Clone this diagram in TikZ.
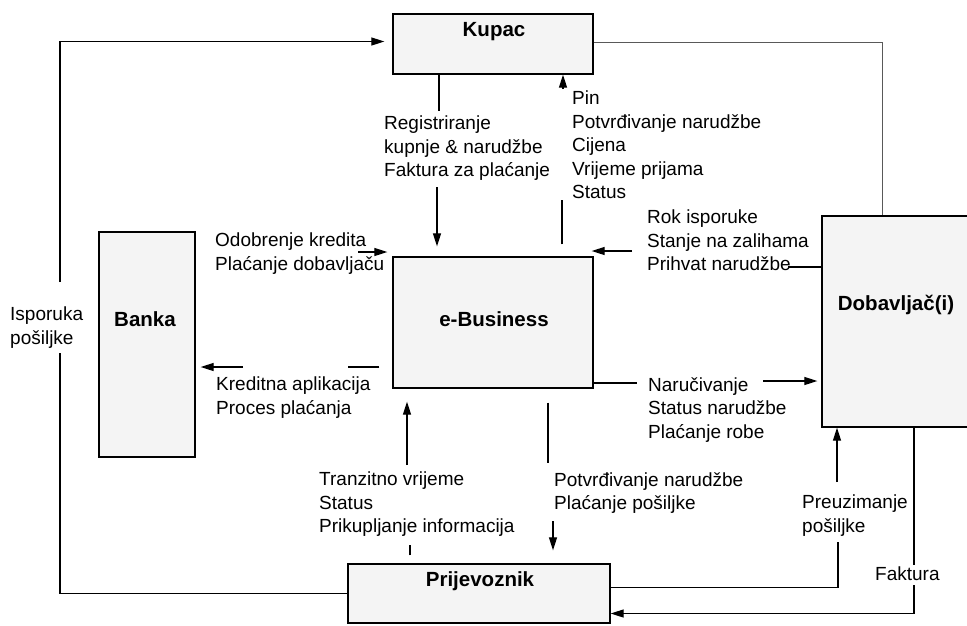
\documentclass[tikz,border=0pt]{standalone}
\usepackage{fontspec}
\setmainfont{Liberation Sans}
\usetikzlibrary{arrows.meta}

\tikzset{
  box/.style={draw, line width=1.3pt, fill=gray!9, inner sep=0pt},
  title/.style={anchor=base, inner sep=0pt, font=\fontsize{20.5}{24}\selectfont\bfseries},
  txt/.style={anchor=north west, align=left, inner sep=0pt, font=\fontsize{19}{23.5}\selectfont},
  flow/.style={line width=1.2pt},
  thinflow/.style={line width=0.8pt, gray!70!black}
}

\begin{document}
\begin{tikzpicture}[x=1pt, y=-1pt, >={Triangle[length=13pt,width=8pt]}]
\useasboundingbox (0,0) rectangle (967,625);

% boxes
\node[box, minimum width=200pt, minimum height=60pt] (kupac_box) at (493,44) {};
\node[box, minimum width=200pt, minimum height=131pt] (ebiz_box) at (493,322.5) {};
\node[box, minimum width=96pt, minimum height=225pt] (banka_box) at (147,344.5) {};
\node[box, minimum width=146pt, minimum height=211pt] (dobavljac_box) at (895,321.5) {};
\node[box, minimum width=262pt, minimum height=59pt] (prijevoznik_box) at (479,593.5) {};

\node[title] (kupac_title) at (494,36) {Kupac};
\node[title] (ebiz_title) at (494,326) {e-Business};
\node[title] (banka_title) at (145,326) {Banka};
\node[title] (dobavljac_title) at (896,310) {Dobavljač(i)};
\node[title] (prijevoznik_title) at (480,586) {Prijevoznik};

% texts
\node[txt] (reg_text) at (384,116) {Registriranje\\kupnje \& narudžbe\\Faktura za plaćanje};
\node[txt] (pin_text) at (572,91) {Pin\\Potvrđivanje narudžbe\\Cijena\\Vrijeme prijama\\Status};
\node[txt] (rok_text) at (647,210) {Rok isporuke\\Stanje na zalihama\\Prihvat narudžbe};
\node[txt] (odob_text) at (215,233) {Odobrenje kredita\\Plaćanje dobavljaču};
\node[txt] (kred_text) at (216,377) {Kreditna aplikacija\\Proces plaćanja};
\node[txt] (tranz_text) at (319,472) {Tranzitno vrijeme\\Status\\Prikupljanje informacija};
\node[txt] (potv_text) at (554,472) {Potvrđivanje narudžbe\\Plaćanje pošiljke};
\node[txt] (naruc_text) at (648,377) {Naručivanje\\Status narudžbe\\Plaćanje robe};
\node[txt] (preuz_text) at (802,495) {Preuzimanje\\pošiljke};
\node[txt] (fakt_text) at (875,567) {Faktura};
\node[txt] (ispor_text) at (10,307) {Isporuka\\pošiljke};

% free ends of the connectors
\coordinate (isp_top) at (60,282);
\coordinate (isp_bot) at (60,353);
\coordinate (reg_top) at (439,111);
\coordinate (reg_bot) at (437,187);
\coordinate (pin_top) at (563,89);
\coordinate (pin_bot) at (562,200);
\coordinate (rok_left) at (632,251);
\coordinate (rok_right) at (788,267);
\coordinate (odob_end) at (358,252);
\coordinate (kred_a) at (380,367);
\coordinate (kred_b) at (348,367);
\coordinate (kred_c) at (243,367);
\coordinate (tranz_top) at (407,465);
\coordinate (tranz_bot) at (410,545);
\coordinate (potv_top) at (548,463);
\coordinate (potv_bot) at (553,521);
\coordinate (naruc_left) at (637,383);
\coordinate (naruc_right) at (763,381);
\coordinate (preuz_top) at (837,482);
\coordinate (preuz_bot) at (838,542);
\coordinate (fakt_top) at (914,565);
\coordinate (fakt_bot) at (914,585);

% Isporuka posiljke
\draw[flow] (prijevoznik_box.west) -| (isp_bot);
\draw[flow, ->, shorten >=8pt] (isp_top) |- ([yshift=2.5pt]kupac_box.west);
% Kupac -- Dobavljac
\draw[thinflow] ([yshift=2pt]kupac_box.east) -| ([xshift=61pt]dobavljac_box.north west);
% Kupac -> e-Business
\draw[flow] (kupac_box.south -| reg_top) -- (reg_top);
\draw[flow, ->, shorten >=10pt] (reg_bot) -- (reg_bot |- ebiz_box.north);
% e-Business -> Kupac
\draw[flow, shorten <=12pt] (ebiz_box.north -| pin_bot) -- (pin_bot);
\draw[flow, ->] (pin_top) -- (pin_top |- kupac_box.south);
% Dobavljac -> e-Business
\draw[flow] (dobavljac_box.west |- rok_right) -- (rok_right);
\draw[flow, ->, shorten >=-2pt] (rok_left) -- (rok_left -| ebiz_box.east);
% Banka -> e-Business
\draw[flow, ->, shorten >=5pt] (odob_end) -- (odob_end -| ebiz_box.west);
% e-Business -> Banka
\draw[flow, shorten <=13pt] (ebiz_box.west |- kred_a) -- (kred_b);
\draw[flow, ->, shorten >=5pt] (kred_c) -- (kred_c -| banka_box.east);
% Prijevoznik -> e-Business
\draw[flow, shorten <=8pt] (prijevoznik_box.north -| tranz_bot) -- (tranz_bot);
\draw[flow, ->, shorten >=13pt] (tranz_top) -- (tranz_top |- ebiz_box.south);
% e-Business -> Prijevoznik
\draw[flow, shorten <=14pt] (ebiz_box.south -| potv_top) -- (potv_top);
\draw[flow, ->, shorten >=13pt] (potv_bot) -- (potv_bot |- prijevoznik_box.north);
% e-Business -> Dobavljac
\draw[flow] (ebiz_box.east |- naruc_left) -- (naruc_left);
\draw[flow, ->, shorten >=4pt] (naruc_right) -- (naruc_right -| dobavljac_box.west);
% Prijevoznik -> Dobavljac
\draw[flow] ([yshift=6pt]prijevoznik_box.east) -| (preuz_bot);
\draw[flow, ->] (preuz_top) -- (preuz_top |- dobavljac_box.south);
% Dobavljac -> Prijevoznik
\draw[flow] (dobavljac_box.south -| fakt_top) -- (fakt_top);
\draw[flow, ->] (fakt_bot) |- ([yshift=-20pt]prijevoznik_box.east);

\end{tikzpicture}
\end{document}
